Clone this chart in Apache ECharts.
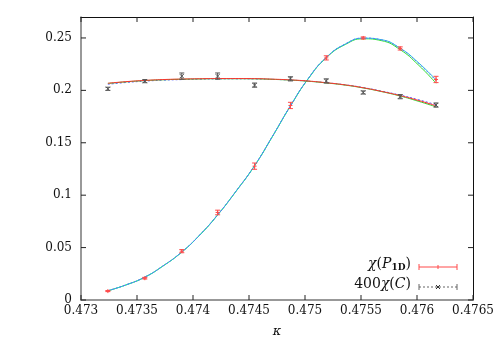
<!DOCTYPE html>
<html>
<head>
<meta charset="utf-8">
<script src="https://cdn.jsdelivr.net/npm/echarts@6/dist/echarts.min.js"></script>
<style>
  html, body { margin: 0; padding: 0; background: #fff; }
  #chart { width: 498px; height: 343px; }
</style>
</head>
<body>
<div id="chart"></div>
<script>
// measured points
const kappa = [0.47324, 0.47357, 0.4739, 0.47422, 0.47455, 0.47487, 0.47519, 0.47552, 0.47585, 0.47617];
const chiP1D = [0.0085, 0.0208, 0.0466, 0.0835, 0.1277, 0.1856, 0.2310, 0.2500, 0.2400, 0.2104];
const chiP1DErr = [0.0005, 0.0008, 0.0015, 0.0022, 0.003, 0.003, 0.002, 0.001, 0.0015, 0.003];
const chiC400 = [0.2015, 0.2088, 0.2136, 0.2136, 0.2050, 0.2110, 0.2090, 0.1980, 0.1940, 0.1860];
const chiC400Err = [0.0015, 0.0015, 0.003, 0.003, 0.002, 0.002, 0.002, 0.0015, 0.002, 0.002];

// reweighted curves
const kappaFine = [0.47324, 0.4734, 0.47357, 0.47373, 0.4739, 0.47406, 0.47422, 0.47438, 0.47455, 0.47471,
                   0.47487, 0.47503, 0.47519, 0.47536, 0.47552, 0.47568, 0.47585, 0.47601, 0.47617];
const riseCyan = [0.0088, 0.0143, 0.0218, 0.0323, 0.0458, 0.0620, 0.0812, 0.1032, 0.1282, 0.1562,
                  0.1852, 0.2114, 0.2314, 0.2442, 0.2498, 0.2484, 0.2402, 0.2267, 0.2100];
const riseGreen = [0.0088, 0.0143, 0.0218, 0.0323, 0.0457, 0.0619, 0.0811, 0.1031, 0.1281, 0.1561,
                   0.1851, 0.2112, 0.2311, 0.2438, 0.2492, 0.2475, 0.2388, 0.2245, 0.2068];
const riseBlue = [0.0089, 0.0144, 0.0219, 0.0324, 0.0459, 0.0621, 0.0813, 0.1033, 0.1283, 0.1563,
                  0.1853, 0.2115, 0.2315, 0.2443, 0.2499, 0.2483, 0.2400, 0.2262, 0.2092];
const flatRed = [0.2068, 0.2083, 0.2095, 0.2103, 0.2108, 0.2111, 0.2113, 0.2113, 0.2112, 0.2107,
                 0.2100, 0.2089, 0.2073, 0.2052, 0.2025, 0.1991, 0.1950, 0.1905, 0.1853];
const flatGreen = [0.2066, 0.2081, 0.2093, 0.2101, 0.2106, 0.2109, 0.2111, 0.2111, 0.2110, 0.2105,
                   0.2098, 0.2087, 0.2071, 0.2050, 0.2023, 0.1989, 0.1946, 0.1897, 0.1843];
const flatBlue = [0.2058, 0.2075, 0.2088, 0.2097, 0.2103, 0.2107, 0.2109, 0.2110, 0.2109, 0.2105,
                  0.2098, 0.2088, 0.2073, 0.2053, 0.2027, 0.1994, 0.1955, 0.1912, 0.1863];

// tick positions
const xTickValues = [0.473, 0.4735, 0.474, 0.4745, 0.475, 0.4755, 0.476, 0.4765];
const yTickValues = [0, 0.05, 0.1, 0.15, 0.2, 0.25];
const xTicks = { min: 0.473, max: 0.4765, step: 0.0005 };
const yTicks = { min: 0, max: 0.27, step: 0.05 };

const font = "DejaVu Serif";
const pair = (xs, ys) => xs.map((x, i) => [x, ys[i]]);
const triple = (xs, ys, es) => xs.map((x, i) => [x, ys[i], es[i]]);

const curve = (name, data, color, type) => ({
  name: name,
  type: "line",
  smooth: true,
  showSymbol: false,
  silent: true,
  data: data,
  lineStyle: { color: color, width: 1, type: type },
  z: 2,
});

const errorBars = (data, color, marker) => ({
  type: "custom",
  data: data,
  z: 5,
  renderItem: (params, api) => {
    const x = api.value(0), y = api.value(1), e = api.value(2);
    const p = api.coord([x, y]);
    const lo = api.coord([x, y - e]);
    const hi = api.coord([x, y + e]);
    const st = { stroke: color, lineWidth: 1 };
    const kids = [
      { type: "line", shape: { x1: p[0], y1: lo[1], x2: p[0], y2: hi[1] }, style: st },
      { type: "line", shape: { x1: p[0] - 2.5, y1: lo[1], x2: p[0] + 2.5, y2: lo[1] }, style: st },
      { type: "line", shape: { x1: p[0] - 2.5, y1: hi[1], x2: p[0] + 2.5, y2: hi[1] }, style: st },
    ];
    if (marker === "+") {
      kids.push({ type: "line", shape: { x1: p[0] - 2, y1: p[1], x2: p[0] + 2, y2: p[1] }, style: st });
      kids.push({ type: "line", shape: { x1: p[0], y1: p[1] - 2, x2: p[0], y2: p[1] + 2 }, style: st });
    } else {
      kids.push({ type: "line", shape: { x1: p[0] - 2, y1: p[1] - 2, x2: p[0] + 2, y2: p[1] + 2 }, style: st });
      kids.push({ type: "line", shape: { x1: p[0] - 2, y1: p[1] + 2, x2: p[0] + 2, y2: p[1] - 2 }, style: st });
    }
    return { type: "group", children: kids };
  },
});

// inward tick marks on all four sides of the frame, placed through the axis scales
const TICK = 5;
const tickSeries = (data, vertical) => ({
  type: "custom",
  data: data,
  silent: true,
  clip: false,
  z: 6,
  renderItem: (params, api) => {
    const cs = params.coordSys;
    const p = api.coord([api.value(0), api.value(1)]);
    const st = { stroke: "#222", lineWidth: 1 };
    if (vertical) {
      return {
        type: "group",
        children: [
          { type: "line", shape: { x1: p[0], y1: cs.y + cs.height, x2: p[0], y2: cs.y + cs.height - TICK }, style: st },
          { type: "line", shape: { x1: p[0], y1: cs.y, x2: p[0], y2: cs.y + TICK }, style: st },
        ],
      };
    }
    return {
      type: "group",
      children: [
        { type: "line", shape: { x1: cs.x, y1: p[1], x2: cs.x + TICK, y2: p[1] }, style: st },
        { type: "line", shape: { x1: cs.x + cs.width, y1: p[1], x2: cs.x + cs.width - TICK, y2: p[1] }, style: st },
      ],
    };
  },
});

const fmt = (v) => String(parseFloat(v.toFixed(5)));

const chart = echarts.init(document.getElementById("chart"), null, { renderer: "canvas" });

const option = {
  animation: false,
  backgroundColor: "#fff",
  grid: { left: 81, right: 25, top: 17, bottom: 42 },
  xAxis: [
    {
      type: "value",
      min: xTicks.min, max: xTicks.max, interval: xTicks.step,
      axisLine: { show: true, onZero: false, lineStyle: { color: "#777", width: 1.5 } },
      axisTick: { show: false },
      splitLine: { show: false },
      axisLabel: { color: "#111", fontFamily: font, fontSize: 12, margin: 5, formatter: fmt },
      name: "κ",
      nameLocation: "middle",
      nameGap: 25,
      nameTextStyle: { fontFamily: font, fontStyle: "italic", fontSize: 13, color: "#111" },
    },
    {
      type: "value", position: "top",
      min: xTicks.min, max: xTicks.max, interval: xTicks.step,
      axisLine: { show: true, onZero: false, lineStyle: { color: "#111", width: 1 } },
      axisTick: { show: false },
      axisLabel: { show: false },
      splitLine: { show: false },
    },
  ],
  yAxis: [
    {
      type: "value",
      min: yTicks.min, max: yTicks.max, interval: yTicks.step,
      axisLine: { show: true, onZero: false, lineStyle: { color: "#777", width: 1.5 } },
      axisTick: { show: false },
      splitLine: { show: false },
      axisLabel: { color: "#111", fontFamily: font, fontSize: 12, margin: 9, formatter: fmt, showMaxLabel: false },
    },
    {
      type: "value", position: "right",
      min: yTicks.min, max: yTicks.max, interval: yTicks.step,
      axisLine: { show: true, onZero: false, lineStyle: { color: "#111", width: 1 } },
      axisTick: { show: false },
      axisLabel: { show: false },
      splitLine: { show: false },
    },
  ],
  series: [
    curve("rise green", pair(kappaFine, riseGreen), "#30e030", "solid"),
    curve("rise cyan", pair(kappaFine, riseCyan), "#20c8d8", "solid"),
    curve("rise blue", pair(kappaFine, riseBlue), "#6070ff", [2, 2]),
    curve("flat blue", pair(kappaFine, flatBlue), "#5060ff", [2, 2]),
    curve("flat green", pair(kappaFine, flatGreen), "#30d030", "solid"),
    // same scale as the primary axes; drawing it here keeps the mirrored top/right axes rendered
    Object.assign(curve("flat red", pair(kappaFine, flatRed), "#ff3030", "solid"), { xAxisIndex: 1, yAxisIndex: 1 }),
    errorBars(triple(kappa, chiP1D, chiP1DErr), "#ff4a4a", "+"),
    errorBars(triple(kappa, chiC400, chiC400Err), "#555", "x"),
    tickSeries(xTickValues.map((v) => [v, yTicks.min]), true),
    tickSeries(yTickValues.map((v) => [xTicks.min, v]), false),
  ],
  graphic: [
    {
      type: "text", right: 87, top: 257,
      style: {
        text: "{i|χ}({i|P}{s|1D})",
        fontFamily: font, fontSize: 14, fill: "#111",
        rich: {
          i: { fontFamily: font, fontStyle: "italic", fontSize: 14 },
          s: { fontFamily: font, fontWeight: "bold", fontSize: 9, padding: [7, 0, 0, 0] },
        },
      },
    },
    { type: "line", shape: { x1: 419, y1: 267, x2: 457, y2: 267 }, style: { stroke: "#ff4a4a", lineWidth: 1 } },
    { type: "line", shape: { x1: 419, y1: 264, x2: 419, y2: 270 }, style: { stroke: "#ff4a4a", lineWidth: 1 } },
    { type: "line", shape: { x1: 457, y1: 264, x2: 457, y2: 270 }, style: { stroke: "#ff4a4a", lineWidth: 1 } },
    { type: "line", shape: { x1: 438, y1: 265, x2: 438, y2: 269 }, style: { stroke: "#ff4a4a", lineWidth: 1 } },
    {
      type: "text", right: 87, top: 277,
      style: {
        text: "400{i|χ}({i|C})",
        fontFamily: font, fontSize: 14, fill: "#111",
        rich: { i: { fontFamily: font, fontStyle: "italic", fontSize: 14 } },
      },
    },
    { type: "line", shape: { x1: 419, y1: 287, x2: 457, y2: 287 }, style: { stroke: "#666", lineWidth: 1, lineDash: [2, 2] } },
    { type: "line", shape: { x1: 419, y1: 284, x2: 419, y2: 290 }, style: { stroke: "#666", lineWidth: 1 } },
    { type: "line", shape: { x1: 457, y1: 284, x2: 457, y2: 290 }, style: { stroke: "#666", lineWidth: 1 } },
    { type: "line", shape: { x1: 436, y1: 285, x2: 440, y2: 289 }, style: { stroke: "#333", lineWidth: 1 } },
    { type: "line", shape: { x1: 436, y1: 289, x2: 440, y2: 285 }, style: { stroke: "#333", lineWidth: 1 } },
  ],
};

chart.setOption(option);
window.onresize = () => {
  chart.resize();
};
</script>
</body>
</html>
